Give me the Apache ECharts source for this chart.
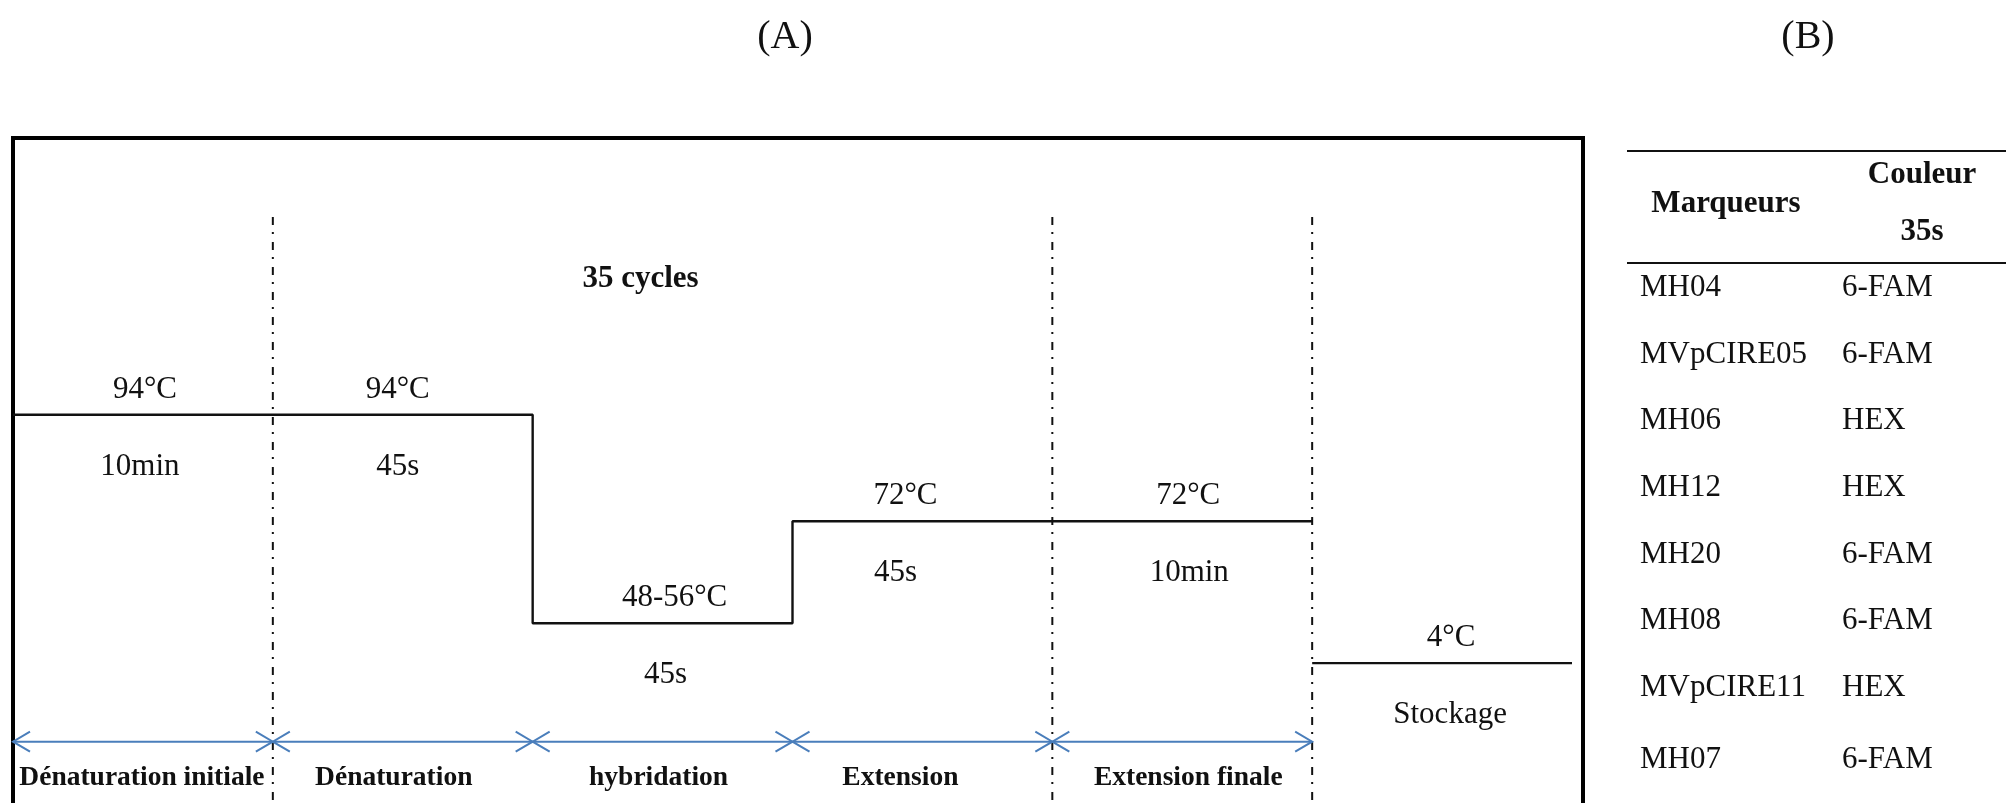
<!DOCTYPE html>
<html>
<head>
<meta charset="utf-8">
<title>Programme PCR</title>
<script src="https://cdn.jsdelivr.net/npm/echarts@6/dist/echarts.min.js"></script>
<style>
  html, body { margin: 0; padding: 0; background: #fff; }
  #chart { width: 2006px; height: 803px; }
</style>
</head>
<body>
<div id="chart"></div>
<script>
// PCR program phases (panel A)
const stepNames = ['Dénaturation initiale', 'Dénaturation', 'hybridation', 'Extension', 'Extension finale'];
const stepTemps = ['94°C', '94°C', '48-56°C', '72°C', '72°C', '4°C'];
const stepTimes = ['10min', '45s', '45s', '45s', '10min', 'Stockage'];
// schematic plateau heights of each step (diagram units, 0-100)
const stepLevels = [58.3, 58.3, 27.0, 42.3, 42.3, 21.0];
const cycleLabel = '35 cycles';
const cycleRange = [1, 4];       // phases repeated in each cycle
const separators = [1, 4, 5];    // dash-dot boundaries between phases

// Marker table (panel B)
const tableHeader = ['Marqueurs', 'Couleur', '35s'];
const markers = ['MH04', 'MVpCIRE05', 'MH06', 'MH12', 'MH20', 'MH08', 'MVpCIRE11', 'MH07'];
const dyes = ['6-FAM', '6-FAM', 'HEX', 'HEX', '6-FAM', '6-FAM', 'HEX', '6-FAM'];

// ---- layout / style constants ----
const SERIF = '"Liberation Serif", "Times New Roman", Times, serif';
const INK = '#111';
const ARROW = '#4A7EBB';
const SEP_TOP = 88;       // top of the dash-dot separators (diagram units)
const ARROW_LEVEL = 9.2;  // height of the phase arrows (diagram units)
const tempShift = [2, -5, 12, -17, 6, 9];
const timeShift = [-3, -5, 3, -27, 7, 8];
const nameShift = [-1, -9, -4, -22, 6];

const chart = echarts.init(document.getElementById('chart'), null, { renderer: 'canvas' });

// temperature profile: phases 0..4 form one connected path, storage is drawn apart
const profile = [];
for (let i = 0; i < stepNames.length; i++) {
  profile.push([i, stepLevels[i]], [i + 1, stepLevels[i]]);
}
const storageIdx = stepLevels.length - 1;
const storage = [[storageIdx, stepLevels[storageIdx]], [storageIdx + 1, stepLevels[storageIdx]]];

function textEl(x, y, text, size, bold, align) {
  return {
    type: 'text', x: x, y: y,
    style: {
      text: text, fill: INK, fontFamily: SERIF, fontSize: size,
      fontWeight: bold ? 'bold' : 'normal', align: align || 'center', verticalAlign: 'middle'
    }
  };
}

const separatorSeries = separators.map(b => ({
  type: 'line', data: [[b, SEP_TOP], [b, 0]], symbol: 'none', silent: true,
  lineStyle: { color: INK, width: 2, type: [8, 7, 2, 8] }, z: 2
}));

// table graphics (panel B)
const tableX0 = 1627, colA = 1640, colB = 1842, headCenterA = 1726, headCenterB = 1922;
const rowYs = [288, 355, 421, 488, 555, 621, 688, 760];
const tableGraphics = [
  { type: 'line', shape: { x1: tableX0, y1: 151, x2: 2006, y2: 151 }, style: { stroke: INK, lineWidth: 2 } },
  { type: 'line', shape: { x1: tableX0, y1: 263, x2: 2006, y2: 263 }, style: { stroke: INK, lineWidth: 2 } },
  textEl(headCenterA, 204, tableHeader[0], 31, true),
  textEl(headCenterB, 175, tableHeader[1], 31, true),
  textEl(headCenterB, 232, tableHeader[2], 31, true)
];
markers.forEach((m, i) => {
  tableGraphics.push(textEl(colA, rowYs[i], m, 31, false, 'left'));
  tableGraphics.push(textEl(colB, rowYs[i], dyes[i], 31, false, 'left'));
});

const option = {
  animation: false,
  backgroundColor: '#fff',
  grid: { left: 13, top: 137, width: 1559, height: 666, containLabel: false },
  xAxis: { type: 'value', min: 0, max: 6, show: false },
  yAxis: { type: 'value', min: 0, max: 100, show: false },
  graphic: [
    // frame around panel A
    { type: 'rect', shape: { x: 13, y: 138, width: 1570, height: 720 }, style: { fill: 'none', stroke: '#000', lineWidth: 4 }, z: -1, silent: true },
    textEl(785, 37, '(A)', 40, false),
    textEl(1808, 37, '(B)', 40, false)
  ].concat(tableGraphics),
  series: [
    {
      type: 'line', data: profile, symbol: 'none', silent: true,
      lineStyle: { color: INK, width: 2.4 }, z: 3
    },
    {
      type: 'line', data: storage, symbol: 'none', silent: true,
      lineStyle: { color: INK, width: 2.4 }, z: 3
    }
  ].concat(separatorSeries).concat([
    {
      // temperature above each plateau, duration below it
      type: 'custom', silent: true, z: 4,
      data: stepLevels.map((lv, i) => [i + 0.5, lv]),
      renderItem: function (params, api) {
        const i = params.dataIndex;
        const p = api.coord([api.value(0), api.value(1)]);
        return {
          type: 'group',
          children: [
            textEl(p[0] + tempShift[i], p[1] - 25, stepTemps[i], 31, false),
            textEl(p[0] + timeShift[i], p[1] + 52, stepTimes[i], 31, false)
          ]
        };
      }
    },
    {
      // cycle count over the repeated phases
      type: 'custom', silent: true, z: 4,
      data: [[(cycleRange[0] + cycleRange[1]) / 2, SEP_TOP]],
      renderItem: function (params, api) {
        const p = api.coord([api.value(0), api.value(1)]);
        return textEl(p[0] - 22, p[1] + 62, cycleLabel, 31, true);
      }
    },
    {
      // double-headed phase arrows with phase names
      type: 'custom', silent: true, z: 4,
      data: stepNames.map((n, i) => [i, i + 1]),
      renderItem: function (params, api) {
        const i = params.dataIndex;
        const a = api.coord([api.value(0), ARROW_LEVEL]);
        const b = api.coord([api.value(1), ARROW_LEVEL]);
        const y = a[1], hl = 17, hw = 10;
        const st = { stroke: ARROW, lineWidth: 2, fill: 'none' };
        return {
          type: 'group',
          children: [
            { type: 'line', shape: { x1: a[0], y1: y, x2: b[0], y2: y }, style: st },
            { type: 'polyline', shape: { points: [[a[0] + hl, y - hw], [a[0], y], [a[0] + hl, y + hw]] }, style: st },
            { type: 'polyline', shape: { points: [[b[0] - hl, y - hw], [b[0], y], [b[0] - hl, y + hw]] }, style: st },
            textEl((a[0] + b[0]) / 2 + nameShift[i], y + 36, stepNames[i], 27.5, true)
          ]
        };
      }
    }
  ])
};

chart.setOption(option);
</script>
</body>
</html>
